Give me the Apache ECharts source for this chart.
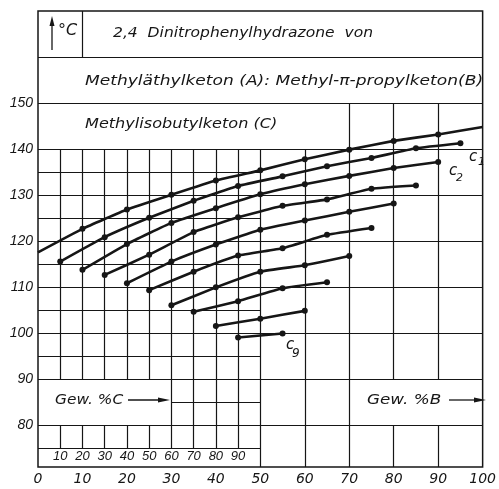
<!DOCTYPE html>
<html><head><meta charset="utf-8">
<script src="https://cdn.jsdelivr.net/npm/echarts@6/dist/echarts.min.js"></script>
<style>html,body{margin:0;padding:0;background:#fff}#c{width:499px;height:489px}</style>
</head><body><div id="c"></div>
<script>
// Tick labels
const bTickLabels = [0,10,20,30,40,50,60,70,80,90,100];
const yTickLabels = [80,90,100,110,120,130,140,150];
const cTickLabels = [10,20,30,40,50,60,70,80,90];

// Curves: B = Gew.% B, T = temperature (°C)
const c0B = [0,10,20,30,40,50,60,70,80,90,100];
const c0T = [117.6,122.7,126.9,130.1,133.2,135.4,137.8,139.9,141.8,143.2,144.8];
const c1B = [5,15,25,35,45,55,65,75,85,95];
const c1T = [115.6,120.9,125.1,128.8,132.0,134.1,136.3,138.1,140.2,141.3];
const c2B = [10,20,30,40,50,60,70,80,90];
const c2T = [113.8,119.4,124.0,127.2,130.2,132.4,134.2,135.9,137.2];
const c3B = [15,25,35,45,55,65,75,85];
const c3T = [112.7,117.1,122.0,125.2,127.7,129.1,131.4,132.1];
const c4B = [20,30,40,50,60,70,80];
const c4T = [110.9,115.6,119.3,122.5,124.5,126.4,128.2];
const c5B = [25,35,45,55,65,75];
const c5T = [109.4,113.4,116.9,118.5,121.4,122.9];
const c6B = [30,40,50,60,70];
const c6T = [106.1,110.0,113.4,114.8,116.8];
const c7B = [35,45,55,65];
const c7T = [104.7,107.0,109.8,111.1];
const c8B = [40,50,60];
const c8T = [101.6,103.2,104.9];
const c9B = [45,55];
const c9T = [99.1,100.0];

const curves = [[c0B,c0T],[c1B,c1T],[c2B,c2T],[c3B,c3T],[c4B,c4T],[c5B,c5T],[c6B,c6T],[c7B,c7T],[c8B,c8T],[c9B,c9T]];

// Grid structure (data units): horizontal [T, B1, B2], vertical [B, T1, T2]
const hLines = [[160,0,100],[150,0,100],[140,0,100],[130,0,100],[120,0,100],[110,0,100],[100,0,100],[90,0,100],[80,0,100],
  [135,0,50],[125,0,50],[115,0,50],[105,0,50],[95,0,50],[75,0,50],[85,30,50]];
const vLines = [[10,160,170],[5,75,80],[5,90,140],[10,75,80],[10,90,140],[15,75,80],[15,90,140],[20,75,80],[20,90,140],
  [25,75,80],[25,90,140],[30,75,140],[35,75,140],[40,75,140],[45,75,140],[50,71,140],[60,71,140],[70,71,150],
  [80,71,80],[80,90,150],[90,71,80],[90,90,150]];

const FONT = 'DejaVu Sans';
const NARROW = '"Liberation Sans"';
const INK = '#161616';

const gridSegs = hLines.map(h => [{coord:[h[1],h[0]]},{coord:[h[2],h[0]]}])
  .concat(vLines.map(v => [{coord:[v[0],v[1]]},{coord:[v[0],v[2]]}]));

const series = [{
  type:'line', data:[], silent:true, z:2,
  markLine:{silent:true, symbol:'none', label:{show:false}, animation:false,
    lineStyle:{color:INK, width:1.2, type:'solid'}, emphasis:{disabled:true}, data:gridSegs}
}].concat(curves.map((c,i) => ({
  type:'line', z:5, smooth:0.12, showAllSymbol:true, symbolSize:6, animation:false,
  lineStyle:{color:INK, width:2.6}, itemStyle:{color:INK},
  data: c[0].map((b,j) => ({value:[b, c[1][j]], symbol: (i===0 && (j===0 || j===c[0].length-1)) ? 'none' : 'circle'}))
})));

function txt(x, y, s, size, sx) {
  return {type:'text', x:x, y:y, z:20, scaleX: sx || 1,
    style:{text:s, font:'italic ' + size + 'px "' + FONT + '"', fill:INK, align:'left', verticalAlign:'middle'}};
}

const graphic = [
  {type:'line', z:20, shape:{x1:52,y1:50,x2:52,y2:22}, style:{stroke:INK, lineWidth:1.3}},
  {type:'polygon', z:20, shape:{points:[[49.5,26],[54.5,26],[52,16]]}, style:{fill:INK}},
  txt(58, 31, '°C', 16),
  txt(113, 33, '2,4  Dinitrophenylhydrazone  von', 14, 1.11),
  txt(85, 81, 'Methyläthylketon (A): Methyl-π-propylketon(B)', 14, 1.22),
  txt(85, 124, 'Methylisobutylketon (C)', 14, 1.15),
  txt(55, 400, 'Gew. %C', 14, 1.1),
  {type:'line', z:20, shape:{x1:128,y1:400,x2:162,y2:400}, style:{stroke:INK, lineWidth:1.3}},
  {type:'polygon', z:20, shape:{points:[[158,397.5],[158,402.5],[170,400]]}, style:{fill:INK}},
  txt(367, 400, 'Gew. %B', 14, 1.2),
  {type:'line', z:20, shape:{x1:449,y1:400,x2:478,y2:400}, style:{stroke:INK, lineWidth:1.3}},
  {type:'polygon', z:20, shape:{points:[[474,397.5],[474,402.5],[486,400]]}, style:{fill:INK}},
  txt(469, 157, 'c', 15), txt(478, 162, '1', 11),
  txt(449, 171, 'c', 15), txt(456, 178, '2', 11),
  txt(286, 345, 'c', 15), txt(292, 354, '9', 12)
];

const chart = echarts.init(document.getElementById('c'), null, {renderer:'canvas'});
chart.setOption({
  animation:false,
  backgroundColor:'#fff',
  grid:{left:38, right:8, top:11, bottom:22, show:true, borderColor:INK, borderWidth:1.5, backgroundColor:'#fff', containLabel:false},
  xAxis:[{
    type:'value', min:0, max:100, interval:10, position:'bottom',
    axisLine:{show:false}, axisTick:{show:false}, splitLine:{show:false},
    axisLabel:{show:true, showMinLabel:true, showMaxLabel:true, margin:5, color:INK, fontStyle:'italic', fontFamily:FONT, fontSize:14,
      formatter: v => bTickLabels.includes(v) ? String(v) : ''}
  },{
    type:'value', min:0, max:100, interval:5, position:'bottom',
    axisLine:{show:false}, axisTick:{show:false}, splitLine:{show:false},
    axisLabel:{show:true, inside:true, margin:4, color:INK, fontStyle:'italic', fontFamily:NARROW, fontSize:13,
      formatter: v => cTickLabels.includes(v*2) ? String(v*2) : ''}
  }],
  yAxis:{
    type:'value', min:71, max:170,
    axisLine:{show:false}, axisTick:{show:false}, splitLine:{show:false},
    axisLabel:{show:true, customValues:yTickLabels, margin:5, color:INK, fontStyle:'italic', fontFamily:NARROW, fontSize:14,
      formatter: v => String(v)}
  },
  series: series,
  graphic: graphic
});
</script></body></html>
